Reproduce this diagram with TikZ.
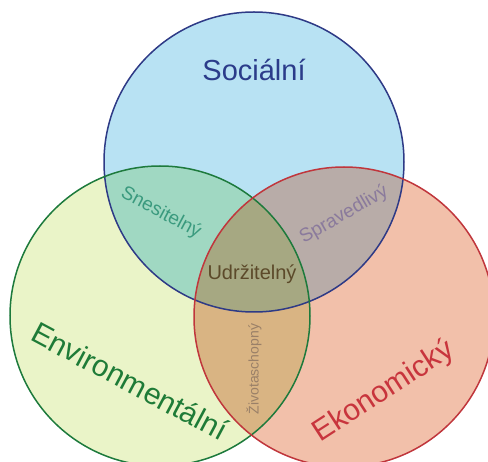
\documentclass[tikz,border=0pt]{standalone}
\usepackage{fontspec}
\setmainfont{Liberation Sans}
\definecolor{cB}{HTML}{B8E2F3}
\definecolor{cG}{HTML}{EAF4C8}
\definecolor{cR}{HTML}{F2C0AA}
\definecolor{cBG}{HTML}{A0D8C2}
\definecolor{cBR}{HTML}{B8ACA8}
\definecolor{cGR}{HTML}{D9B483}
\definecolor{cBGR}{HTML}{A6A882}
\definecolor{sB}{HTML}{2E3A86}
\definecolor{sG}{HTML}{1D7A3C}
\definecolor{sR}{HTML}{C0363C}
\definecolor{tB}{HTML}{2B3C8A}
\definecolor{tG}{HTML}{1E7B37}
\definecolor{tR}{HTML}{C8353D}
\definecolor{tBG}{HTML}{3A9A7E}
\definecolor{tBR}{HTML}{8A7A9C}
\definecolor{tAll}{HTML}{5C4A2A}
\definecolor{tGR}{HTML}{9A8068}
\begin{document}
\begin{tikzpicture}[x=1pt,y=-1pt,
  ring/.style={line width=1.5pt},
  lbl/.style={inner sep=0pt,font=\fontsize{#1}{#1}\selectfont}]
\useasboundingbox (0,0) rectangle (488,462);
\clip (0,0) rectangle (488,462);
\coordinate (cs) at (254,162);
\coordinate (ce) at (160,316);
\coordinate (ck) at (344,317);
% base fills
\fill[cB] (cs) circle[radius=150];
\fill[cG] (ce) circle[radius=150];
\fill[cR] (ck) circle[radius=150];
% pairwise overlaps
\begin{scope}
  \clip (cs) circle[radius=150];
  \fill[cBG] (ce) circle[radius=150];
\end{scope}
\begin{scope}
  \clip (cs) circle[radius=150];
  \fill[cBR] (ck) circle[radius=150];
\end{scope}
\begin{scope}
  \clip (ce) circle[radius=150];
  \fill[cGR] (ck) circle[radius=150];
\end{scope}
\begin{scope}
  \clip (cs) circle[radius=150];
  \clip (ce) circle[radius=150];
  \fill[cBGR] (ck) circle[radius=150];
\end{scope}
% outlines
\draw[ring,sB] (cs) circle[radius=150];
\draw[ring,sG] (ce) circle[radius=150];
\draw[ring,sR] (ck) circle[radius=150];
% labels
\node[lbl=29,text=tB] (soc) at (254,70) {Sociální};
\node[lbl=30,text=tG,rotate=-28] (env) at (130,381) {Environmentální};
\node[lbl=30,text=tR,rotate=33] (eko) at (384,392) {Ekonomický};
\node[lbl=19,text=tBG,rotate=-28] (sne) at (161,213) {Snesitelný};
\node[lbl=19,text=tBR,rotate=30] (spr) at (344,215) {Spravedlivý};
\node[lbl=20,text=tAll] (udr) at (252,274) {Udržitelný};
\node[lbl=14,text=tGR,rotate=90] (ziv) at (254,369) {Životaschopný};
\end{tikzpicture}
\end{document}
